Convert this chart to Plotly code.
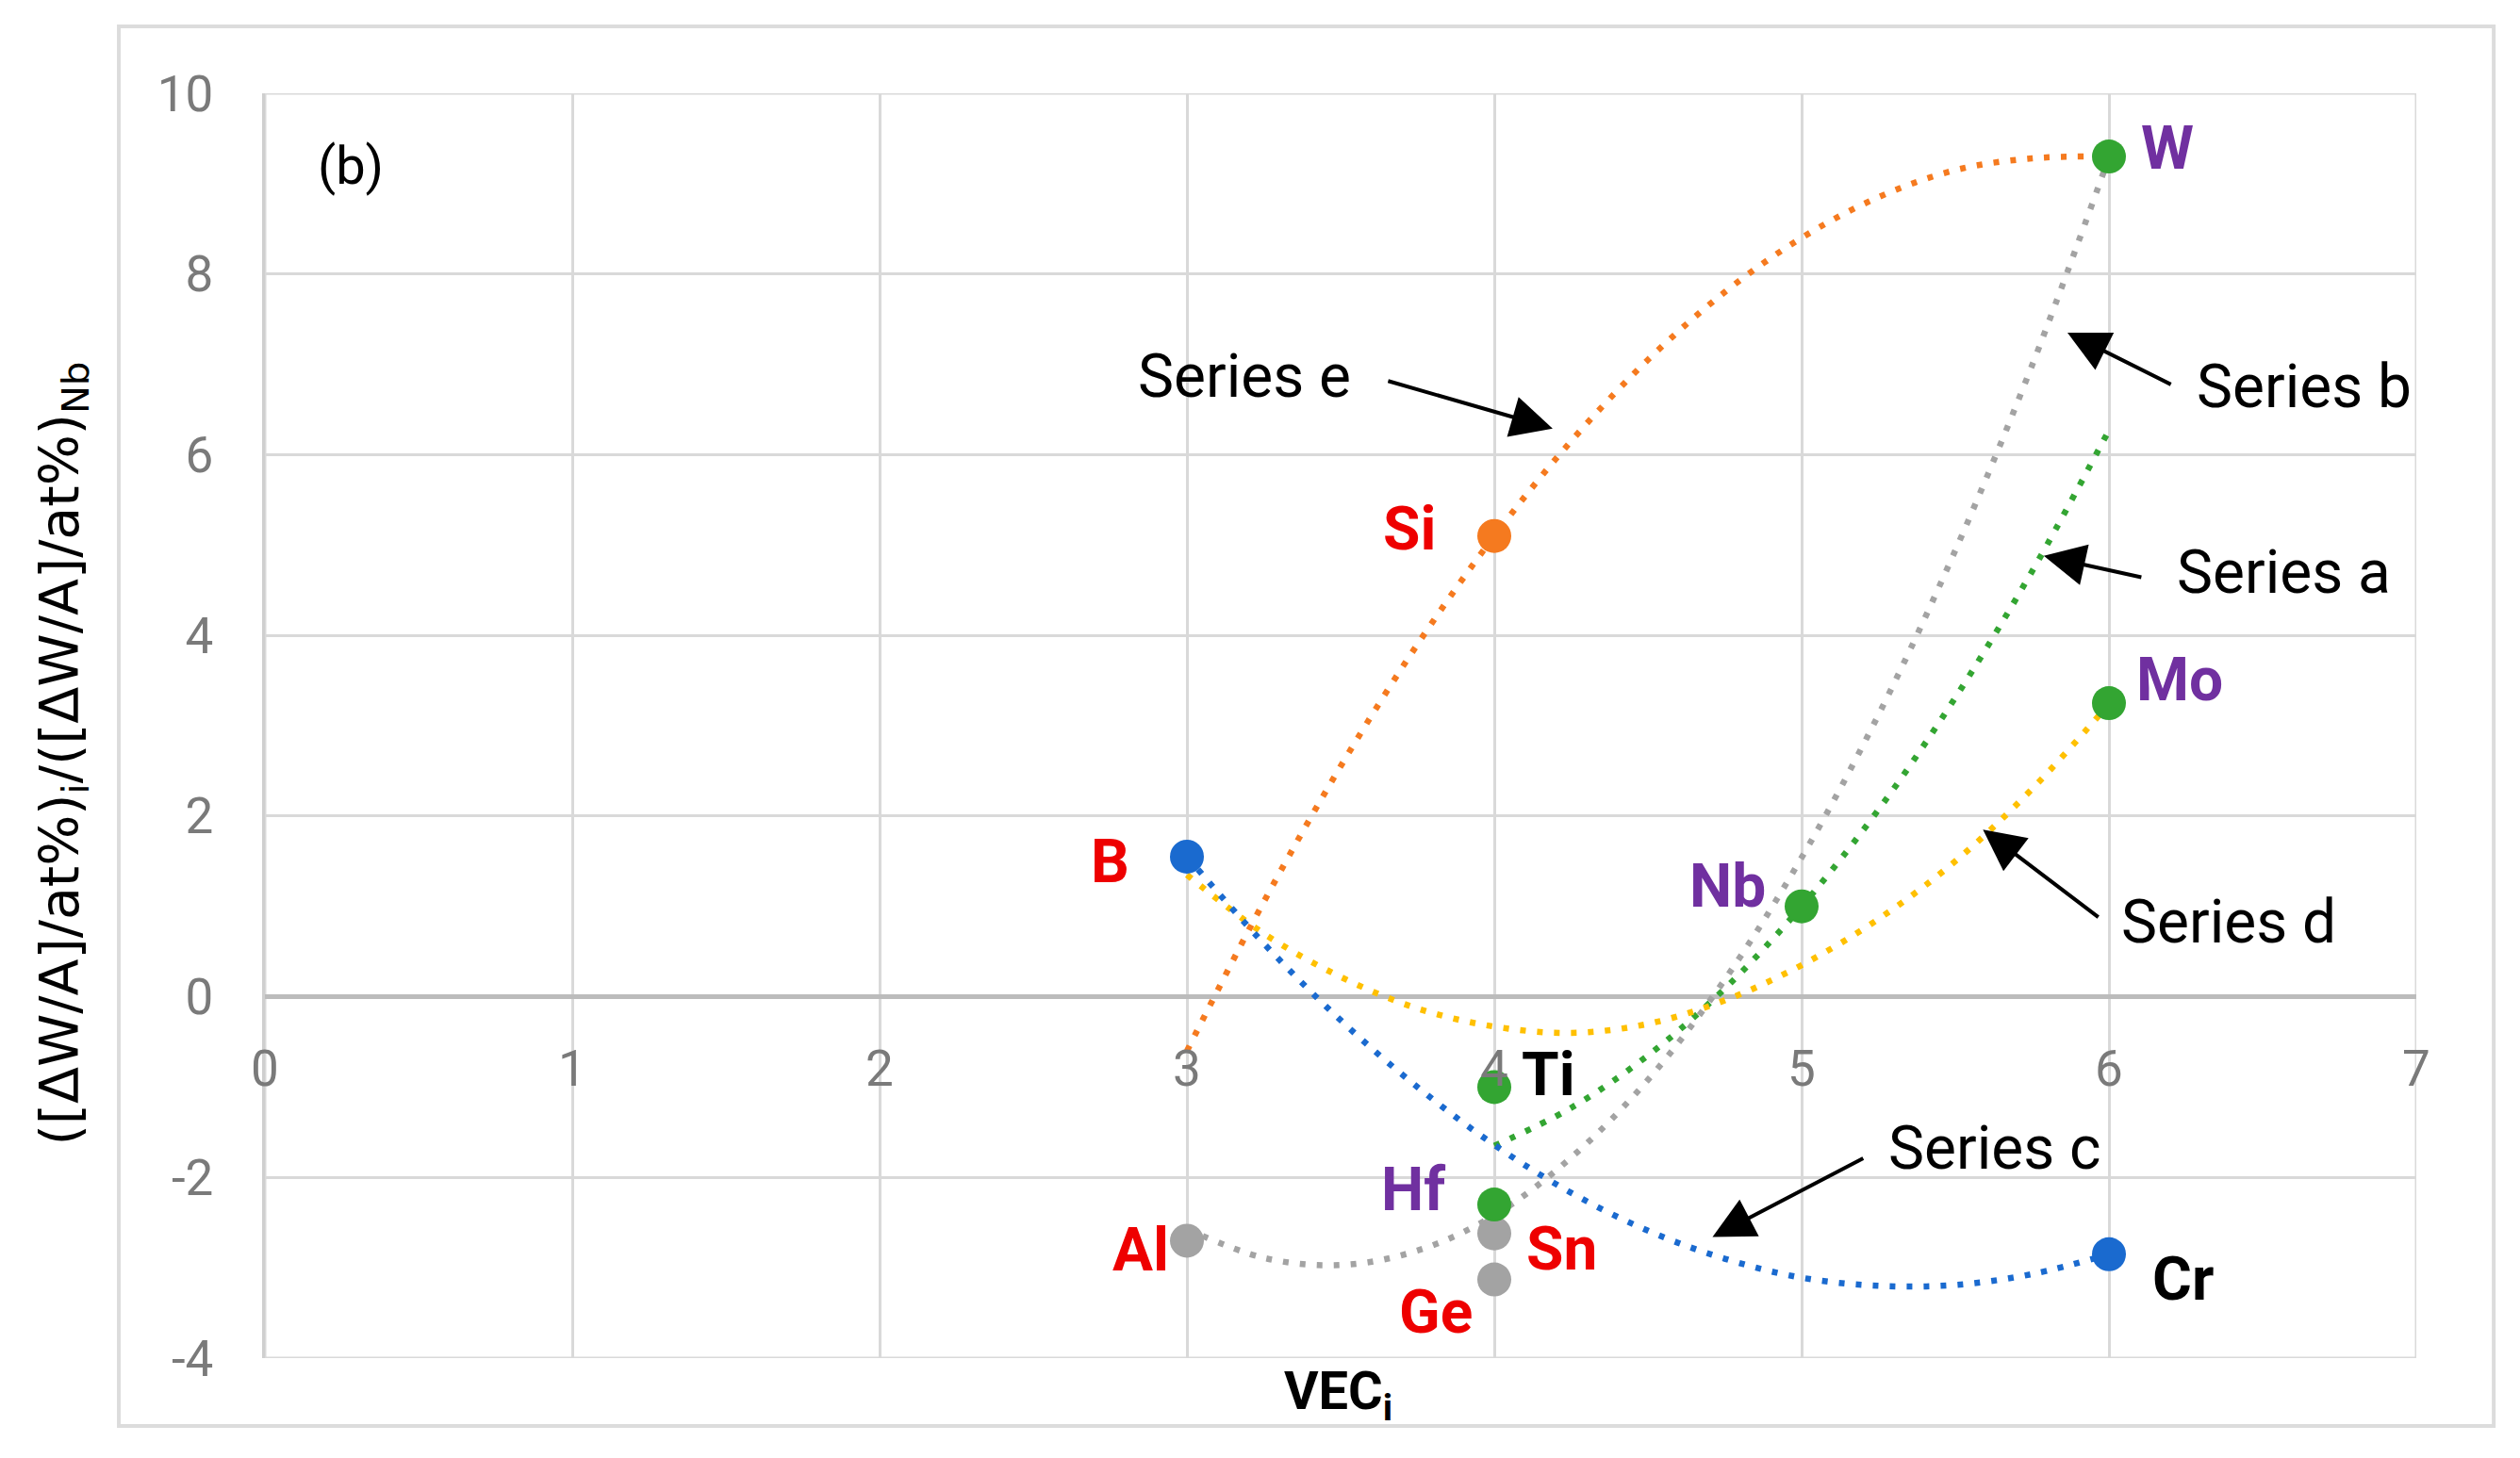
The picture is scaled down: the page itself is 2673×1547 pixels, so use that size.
import plotly.graph_objects as go

# trendline samples (VECi, ratio)
trend_x = [3.0, 3.25, 3.5, 3.75, 4.0, 4.25, 4.5, 4.75, 5.0, 5.25, 5.5, 5.75, 6.0]
series_e = [-0.6, 1.05, 2.55, 3.9, 5.1, 6.15, 7.05, 7.8, 8.4, 8.85, 9.15, 9.28, 9.3]
series_b = [-2.57, -2.89, -2.97, -2.81, -2.42, -1.78, -0.92, 0.19, 1.54, 3.12, 4.94, 6.99, 9.29]
series_c = [1.55, 0.59, -0.26, -1.0, -1.64, -2.17, -2.59, -2.9, -3.11, -3.2, -3.19, -3.07, -2.85]
series_d = [1.35, 0.7, 0.22, -0.13, -0.33, -0.4, -0.3, -0.04, 0.35, 0.86, 1.5, 2.3, 3.24]
trend_a_x = [4.0, 4.25, 4.5, 4.75, 5.0, 5.25, 5.5, 5.75, 6.0]
series_a = [-1.65, -1.23, -0.65, 0.09, 1.0, 2.07, 3.31, 4.71, 6.27]

# element points
green_el = ["Ti", "Hf", "Nb", "W", "Mo"]
green_x = [4, 4, 5, 6, 6]
green_y = [-1.0, -2.3, 1.0, 9.3, 3.25]
grey_el = ["Al", "Sn", "Ge"]
grey_x = [3, 4, 4]
grey_y = [-2.7, -2.62, -3.13]
blue_el = ["B", "Cr"]
blue_x = [3, 6]
blue_y = [1.55, -2.85]
orange_el = ["Si"]
orange_x = [4]
orange_y = [5.1]

x_ticks = [0, 1, 2, 3, 4, 5, 6, 7]
y_ticks = [-4, -2, 0, 2, 4, 6, 8, 10]
y_ticktext = ["-4", "-2", "0", "2", "4", "6", "8", "10"]

GREEN = "#33a532"
GREY = "#a3a3a3"
BLUE = "#1a6acf"
ORANGE = "#f57a1f"
YELLOW = "#ffc000"
RED = "#ee0000"
PURPLE = "#7030a0"
FONT = "Roboto, Liberation Sans, sans-serif"
DOT = "6px,12px"

fig = go.Figure()

for xs, ys, col in [
    (trend_x, series_e, ORANGE),
    (trend_x, series_b, GREY),
    (trend_a_x, series_a, GREEN),
    (trend_x, series_d, YELLOW),
    (trend_x, series_c, BLUE),
]:
    fig.add_trace(go.Scatter(x=xs, y=ys, mode="lines",
                             line=dict(color=col, width=6.5, dash=DOT, shape="spline"),
                             hoverinfo="skip"))

for xs, ys, col, names in [
    (grey_x, grey_y, GREY, grey_el),
    (green_x, green_y, GREEN, green_el),
    (blue_x, blue_y, BLUE, blue_el),
    (orange_x, orange_y, ORANGE, orange_el),
]:
    fig.add_trace(go.Scatter(x=xs, y=ys, mode="markers", text=names,
                             marker=dict(color=col, size=36, line=dict(width=0))))

# element labels: (text, x, y, colour)
labels = [
    ("W", 6.19, 9.39, PURPLE),
    ("Mo", 6.23, 3.51, PURPLE),
    ("Nb", 4.76, 1.22, PURPLE),
    ("Hf", 3.735, -2.14, PURPLE),
    ("Ti", 4.175, -0.87, "black"),
    ("Cr", 6.24, -3.13, "black"),
    ("Si", 3.724, 5.18, RED),
    ("B", 2.75, 1.49, RED),
    ("Al", 2.85, -2.81, RED),
    ("Sn", 4.22, -2.79, RED),
    ("Ge", 3.81, -3.49, RED),
]
for t, x, y, c in labels:
    fig.add_annotation(x=x, y=y, text=t, showarrow=False,
                       font=dict(family=FONT, size=64, color=c, weight="bold"))

# series captions and arrows: (text, text x, text y, tail x, tail y, tip x, tip y)
captions = [
    ("Series e", 3.187, 6.86, 3.65, 6.82, 4.19, 6.29),
    ("Series b", 6.635, 6.75, 6.206, 6.77, 5.865, 7.35),
    ("Series a", 6.568, 4.70, 6.11, 4.64, 5.788, 4.88),
    ("Series d", 6.39, 0.82, 5.97, 0.87, 5.59, 1.85),
    ("Series c", 5.63, -1.68, 5.205, -1.78, 4.71, -2.66),
]
for t, tx, ty, ax, ay, hx, hy in captions:
    fig.add_annotation(x=tx, y=ty, text=t, showarrow=False,
                       font=dict(family=FONT, size=64, color="black"))
    fig.add_annotation(x=hx, y=hy, ax=ax, ay=ay, axref="x", ayref="y", text="",
                       showarrow=True, arrowhead=2, arrowsize=2.2, arrowwidth=4,
                       arrowcolor="black")

fig.add_annotation(x=0.28, y=9.2, text="(b)", showarrow=False,
                   font=dict(family=FONT, size=56, color="black"))

# axis titles
fig.add_annotation(xref="paper", yref="paper", x=-0.0942, y=0.478, textangle=-90,
                   xanchor="center", yanchor="middle",
                   text="([ΔW/A]/at%)<sub>i</sub>/([ΔW/A]/at%)<sub>Nb</sub>",
                   showarrow=False, font=dict(family="DejaVu Sans", size=57, color="black"))
fig.add_annotation(xref="paper", yref="paper", x=0.499, y=-0.029, text="VEC<sub>i</sub>",
                   xanchor="center", yanchor="middle",
                   showarrow=False, font=dict(family=FONT, size=56, color="black", weight="bold"))

# plot-area border and chart-area border
fig.add_shape(type="rect", xref="x", yref="y", x0=0, x1=7, y0=-4, y1=10,
              line=dict(color="#d9d9d9", width=3), layer="below")
fig.add_shape(type="rect", xref="paper", yref="paper", x0=-0.0679, x1=1.036,
              y0=-0.0537, y1=1.0529, line=dict(color="#dcdcdc", width=4), layer="below")

fig.update_layout(
    width=2673, height=1547,
    margin=dict(l=273, r=118, t=91, b=114),
    paper_bgcolor="white", plot_bgcolor="white",
    showlegend=False, hovermode=False,
    xaxis=dict(range=[0, 7], tickvals=x_ticks, showgrid=True, gridcolor="#d9d9d9",
               gridwidth=3, zeroline=False, showline=False, anchor="free",
               position=4 / 14, ticks="", ticklabelstandoff=40,
               tickfont=dict(family=FONT, size=53, color="#7a7a7a")),
    yaxis=dict(range=[-4, 10], tickvals=y_ticks, ticktext=y_ticktext, showgrid=True,
               gridcolor="#d9d9d9", gridwidth=3, zeroline=True, zerolinecolor="#bcbcbc",
               zerolinewidth=5, showline=True, linecolor="#cfcfcf", linewidth=3, ticks="",
               ticklabelstandoff=41,
               tickfont=dict(family=FONT, size=53, color="#7a7a7a")),
)

fig.write_html("out.html")
